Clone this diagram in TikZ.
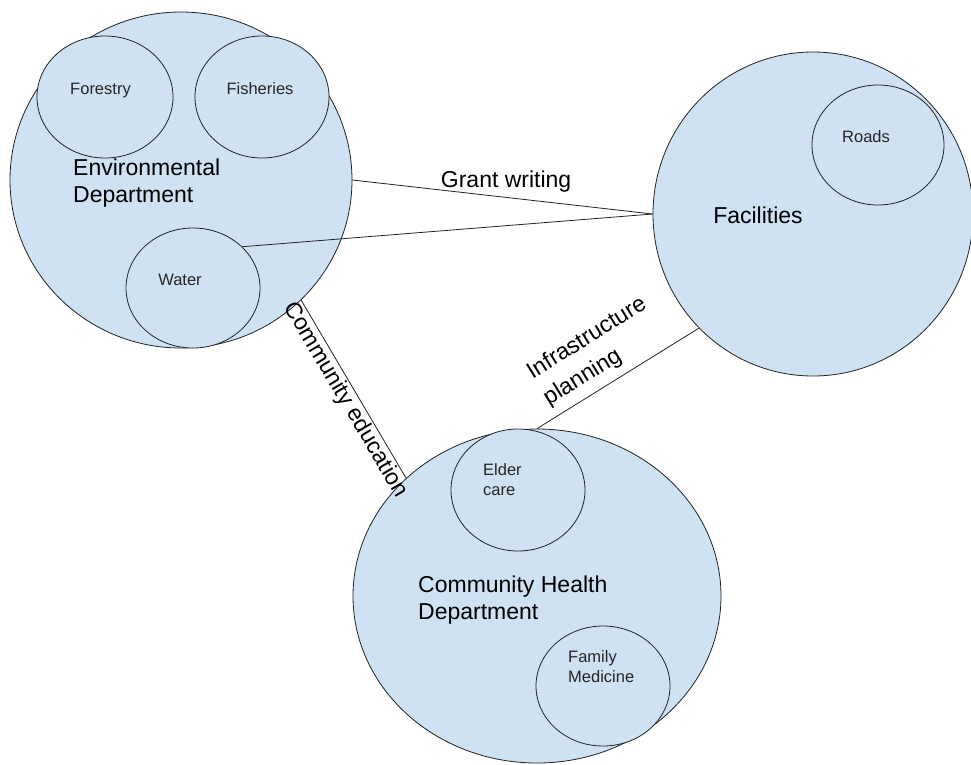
\documentclass[tikz,border=0pt]{standalone}
\usepackage{fontspec}
\setmainfont{Liberation Sans}
\usetikzlibrary{shapes.geometric}
\definecolor{fillblue}{HTML}{CFE2F3}
\definecolor{edgecol}{HTML}{222222}
\begin{document}
\begin{tikzpicture}[x=1pt,y=-1pt,
  blob/.style={ellipse, draw=edgecol, fill=fillblue, line width=0.8pt, inner sep=0pt},
  bigtxt/.style={font=\fontsize{23}{27.5}\selectfont, inner sep=0pt, align=left, text=black},
  smalltxt/.style={font=\fontsize{16.5}{20}\selectfont, inner sep=0pt, align=left, text=black!85},
  link/.style={draw=edgecol, line width=0.8pt}]
\useasboundingbox (0,0) rectangle (971,764);

% Environmental Department
\node[blob, minimum width=342pt, minimum height=336pt] (env) at (181,180) {};
\node[blob, minimum width=136pt, minimum height=122pt] (forestry) at (105,97) {};
\node[blob, minimum width=134pt, minimum height=122pt] (fisheries) at (262,97) {};
\node[blob, minimum width=134pt, minimum height=120pt] (water) at (193,288) {};
\node[bigtxt, anchor=west] (envtxt) at (73,183) {Environmental\\Department};
\node[smalltxt, anchor=base] (forestrytxt) at (100.5,94) {Forestry};
\node[smalltxt, anchor=base] (fisheriestxt) at (260,94) {Fisheries};
\node[smalltxt, anchor=base] (watertxt) at (180,285) {Water};

% Facilities
\node[blob, minimum width=320pt, minimum height=324pt] (fac) at (813,214) {};
\node[blob, minimum width=132pt, minimum height=120pt] (roads) at (878,145) {};
\node[bigtxt, anchor=base] (factxt) at (758,223) {Facilities};
\node[smalltxt, anchor=base] (roadstxt) at (866,142) {Roads};

% Community Health Department
\node[blob, minimum width=368pt, minimum height=334pt] (ch) at (537,596) {};
\node[blob, minimum width=134pt, minimum height=122pt] (elder) at (518,490) {};
\node[blob, minimum width=134pt, minimum height=120pt] (family) at (603,686) {};
\node[bigtxt, anchor=west, font=\fontsize{23}{27}\selectfont] (chtxt) at (418,600.5) {Community Health\\Department};
\node[smalltxt, anchor=west] (eldertxt) at (483,480) {Elder\\care};
\node[smalltxt, anchor=west] (familytxt) at (568,667) {Family\\Medicine};

% Connectors
\draw[link] (env.0) -- (fac.180)
  node[bigtxt, pos=0.512, anchor=base, yshift=10.4pt] (grantlbl) {Grant writing};
\draw[link] (water.40) -- (fac.180);
\draw[link] (env.-45) -- (ch.138)
  node[bigtxt, pos=0.525, sloped, below=1.5pt] (edulbl) {Community education};
\draw[link] (ch.90) -- (fac.225)
  node[bigtxt, font=\fontsize{23}{31}\selectfont, pos=0.472, sloped, above=8pt] (infralbl) {Infrastructure\\planning};
\end{tikzpicture}
\end{document}
